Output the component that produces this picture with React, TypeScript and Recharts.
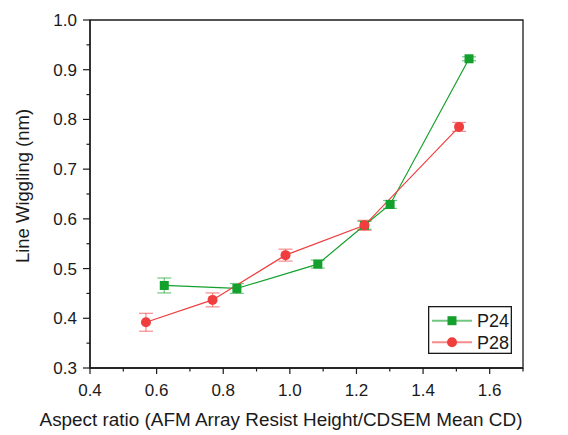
import React from "react";
import { ComposedChart, Line, XAxis, YAxis, ErrorBar, ReferenceArea, Legend } from "recharts";

const GREEN = "#14a02c";
const RED = "#f03e3e";
const INK = "#1a1a1a";

// P24 series (green squares)
const p24X = [0.623, 0.841, 1.084, 1.224, 1.301, 1.538];
const p24Y = [0.466, 0.46, 0.509, 0.587, 0.629, 0.922];
const p24Err = [0.015, 0.01, 0.008, 0.008, 0.008, 0.004];

// P28 series (red circles)
const p28X = [0.568, 0.768, 0.987, 1.224, 1.508];
const p28Y = [0.392, 0.437, 0.527, 0.587, 0.785];
const p28Err = [0.018, 0.014, 0.012, 0.01, 0.009];

const xTicks = [0.4, 0.5, 0.6, 0.7, 0.8, 0.9, 1.0, 1.1, 1.2, 1.3, 1.4, 1.5, 1.6, 1.7];
const yTicks = [0.3, 0.35, 0.4, 0.45, 0.5, 0.55, 0.6, 0.65, 0.7, 0.75, 0.8, 0.85, 0.9, 0.95, 1.0];

const seriesNames = ["P24", "P28"];

const p24 = p24X.map((x, i) => ({ x, y: p24Y[i], err: p24Err[i] }));
const p28 = p28X.map((x, i) => ({ x, y: p28Y[i], err: p28Err[i] }));

const FONT = "'Liberation Sans', Arial, sans-serif";

function XTick(props: any) {
  const { x, y, payload } = props;
  const v = payload.value;
  const major = Math.abs(v * 5 - Math.round(v * 5)) < 1e-6;
  return (
    <g>
      <line x1={x} y1={y} x2={x} y2={y + (major ? 6 : 3.5)} stroke={INK} strokeWidth={1.2} />
      {major && (
        <text x={x} y={y + 28} textAnchor="middle" fontSize={17} fontFamily={FONT} fill={INK}>
          {v.toFixed(1)}
        </text>
      )}
    </g>
  );
}

function YTick(props: any) {
  const { x, y, payload } = props;
  const v = payload.value;
  const major = Math.abs(v * 10 - Math.round(v * 10)) < 1e-6;
  return (
    <g>
      <line x1={x} y1={y} x2={x - (major ? 7 : 3.5)} y2={y} stroke={INK} strokeWidth={1.2} />
      {major && (
        <text x={x - 13} y={y + 6} textAnchor="end" fontSize={17} fontFamily={FONT} fill={INK}>
          {v.toFixed(1)}
        </text>
      )}
    </g>
  );
}

function Square(props: any) {
  const { cx, cy, key } = props;
  if (cx == null || cy == null) return <g key={key} />;
  return <rect key={key} x={cx - 4.5} y={cy - 4.5} width={9} height={9} fill={GREEN} />;
}

function Circle(props: any) {
  const { cx, cy, key } = props;
  if (cx == null || cy == null) return <g key={key} />;
  return <circle key={key} cx={cx} cy={cy} r={5} fill={RED} />;
}

function LegendBox() {
  return (
    <svg width={84} height={48} style={{ display: "block" }}>
      <rect x={0.65} y={0.65} width={82.7} height={46.7} fill="#fff" stroke={INK} strokeWidth={1.3} />
      <line x1={4} y1={14.7} x2={44} y2={14.7} stroke={GREEN} strokeOpacity={0.6} strokeWidth={2} />
      <rect x={19.5} y={10.2} width={9} height={9} fill={GREEN} />
      <text x={49} y={21} fontSize={18} fontFamily={FONT} fill={INK}>{seriesNames[0]}</text>
      <line x1={4} y1={36.3} x2={44} y2={36.3} stroke={RED} strokeOpacity={0.6} strokeWidth={2} />
      <circle cx={24} cy={36.3} r={5} fill={RED} />
      <text x={49} y={42.6} fontSize={18} fontFamily={FONT} fill={INK}>{seriesNames[1]}</text>
    </svg>
  );
}

export default function App() {
  return (
    <div style={{ position: "absolute", left: 0, top: 0, width: 568, height: 435, background: "#fff", fontFamily: FONT }}>
      <ComposedChart width={568} height={435} margin={{ top: 20, right: 45, left: 0, bottom: 0 }}>
        <XAxis
          type="number"
          dataKey="x"
          domain={[0.4, 1.7]}
          ticks={xTicks}
          interval={0}
          allowDataOverflow
          height={67}
          tickSize={0}
          tickMargin={0}
          tickLine={false}
          tick={<XTick />}
          axisLine={{ stroke: INK, strokeWidth: 1.3 }}
          label={{
            content: () => (
              <text x={281} y={426} textAnchor="middle" fontSize={18.9} fontFamily={FONT} fill={INK}>
                Aspect ratio (AFM Array Resist Height/CDSEM Mean CD)
              </text>
            ),
          }}
        />
        <YAxis
          type="number"
          dataKey="y"
          domain={[0.3, 1.0]}
          ticks={yTicks}
          interval={0}
          allowDataOverflow
          width={90}
          tickSize={0}
          tickMargin={0}
          tickLine={false}
          tick={<YTick />}
          axisLine={{ stroke: INK, strokeWidth: 1.3 }}
          label={{
            content: () => (
              <text
                x={29}
                y={186}
                transform="rotate(-90 29 186)"
                textAnchor="middle"
                fontSize={18.5}
                fontFamily={FONT}
                fill={INK}
              >
                Line Wiggling (nm)
              </text>
            ),
          }}
        />
        <ReferenceArea x1={0.4} x2={1.7} y1={0.3} y2={1.0} fill="none" stroke={INK} strokeWidth={1.3} ifOverflow="visible" />
        <Line
          data={p24}
          dataKey="y"
          name={seriesNames[0]}
          stroke={GREEN}
          strokeWidth={1.2}
          dot={Square}
          activeDot={false}
          isAnimationActive={false}
        >
          <ErrorBar dataKey="err" direction="y" width={7} stroke={GREEN} strokeWidth={1.2} strokeOpacity={0.6} isAnimationActive={false} />
        </Line>
        <Line
          data={p28}
          dataKey="y"
          name={seriesNames[1]}
          stroke={RED}
          strokeWidth={1.2}
          dot={Circle}
          activeDot={false}
          isAnimationActive={false}
        >
          <ErrorBar dataKey="err" direction="y" width={7} stroke={RED} strokeWidth={1.2} strokeOpacity={0.6} isAnimationActive={false} />
        </Line>
        <Legend
          layout="horizontal"
          verticalAlign="middle"
          align="center"
          content={() => <LegendBox />}
          wrapperStyle={{ position: "absolute", left: 428, top: 306, width: 84, height: 48 }}
        />
      </ComposedChart>
    </div>
  );
}
